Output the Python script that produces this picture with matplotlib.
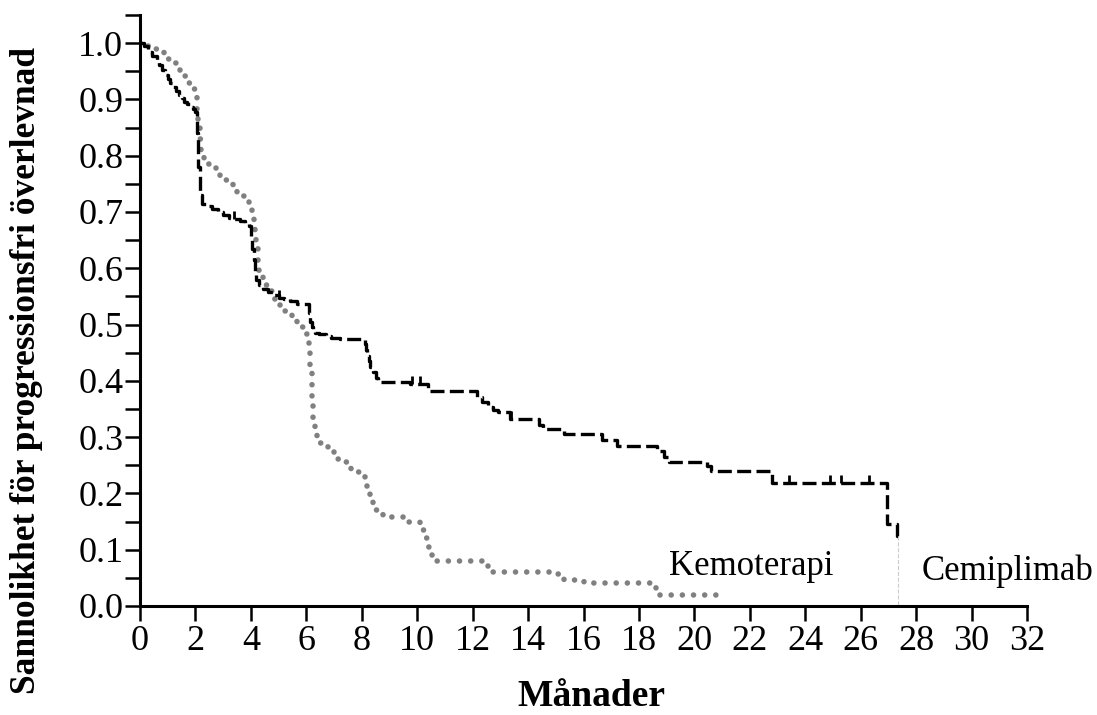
import numpy as np
import matplotlib
matplotlib.use("Agg")
import matplotlib.pyplot as plt
from matplotlib.ticker import MultipleLocator, FormatStrFormatter

plt.rcParams['font.family'] = ['Liberation Serif', 'DejaVu Serif']

# Cemiplimab (black, dashed) - Kaplan-Meier steps
cemi_t = [0, 0.15, 0.3, 0.45, 0.6, 0.7, 0.8, 0.9, 1.0, 1.1, 1.2, 1.3, 1.4, 1.5, 1.6,
          1.7, 1.8, 1.9, 2.0, 2.05, 2.1, 2.15, 2.25, 2.4, 2.6, 2.8, 3.0, 3.2, 3.4,
          3.6, 3.8, 3.95, 4.0, 4.05, 4.1, 4.15, 4.2, 4.3, 4.45, 4.6, 4.8, 5.0, 5.2,
          5.4, 5.65, 6.1, 6.15, 6.2, 6.25, 6.3, 6.45, 6.7, 6.9, 7.2, 8.1, 8.15, 8.2,
          8.25, 8.3, 8.4, 8.5, 8.6, 9.75, 10.4, 12.15, 12.35, 12.55, 12.75, 12.9,
          13.35, 14.4, 14.55, 15.3, 16.65, 17.2, 18.65, 18.9, 19.1, 20.45, 20.6,
          22.8, 26.95, 27.3, 27.35]
cemi_s = [1.0, 0.995, 0.985, 0.978, 0.97, 0.962, 0.953, 0.944, 0.937, 0.93, 0.922,
          0.915, 0.908, 0.902, 0.896, 0.891, 0.887, 0.883, 0.878, 0.84, 0.78, 0.73,
          0.715, 0.71, 0.705, 0.7, 0.695, 0.69, 0.688, 0.684, 0.68, 0.675, 0.655,
          0.635, 0.615, 0.595, 0.58, 0.57, 0.563, 0.557, 0.552, 0.548, 0.545, 0.541,
          0.537, 0.52, 0.505, 0.495, 0.488, 0.485, 0.483, 0.48, 0.476, 0.474, 0.465,
          0.455, 0.445, 0.435, 0.425, 0.415, 0.405, 0.398, 0.394, 0.382, 0.372, 0.362,
          0.354, 0.348, 0.344, 0.332, 0.322, 0.315, 0.305, 0.295, 0.284, 0.275, 0.265,
          0.255, 0.249, 0.24, 0.219, 0.145, 0.125, 0.125]
cemi_cens = [3.4, 5.0, 9.8, 10.1, 13.4, 23.4, 24.9, 25.3, 26.3]

# Kemoterapi (grey, dotted)
kemo_t = [0, 0.3, 0.5, 0.7, 0.85, 1.0, 1.15, 1.3, 1.45, 1.6, 1.75, 1.9, 2.0, 2.05,
          2.1, 2.15, 2.2, 2.3, 2.45, 2.6, 2.75, 2.9, 3.05, 3.2, 3.35, 3.5, 3.65, 3.8,
          3.95, 4.05, 4.1, 4.15, 4.2, 4.25, 4.3, 4.45, 4.6, 4.8, 5.0, 5.2, 5.35, 5.5,
          5.65, 5.8, 5.95, 6.05, 6.1, 6.15, 6.2, 6.25, 6.3, 6.4, 6.5, 6.65, 6.8, 7.0,
          7.15, 7.3, 7.45, 7.6, 8.0, 8.1, 8.2, 8.3, 8.4, 8.5, 8.75, 9.0, 9.6, 10.1,
          10.2, 10.3, 10.4, 10.5, 10.6, 12.35, 12.55, 15.05, 15.3, 16.0, 18.6, 21.0]
kemo_s = [1.0, 0.995, 0.99, 0.985, 0.978, 0.972, 0.965, 0.958, 0.95, 0.942, 0.93,
          0.918, 0.905, 0.88, 0.855, 0.83, 0.8, 0.792, 0.785, 0.778, 0.77, 0.764,
          0.756, 0.75, 0.742, 0.736, 0.728, 0.722, 0.715, 0.7, 0.685, 0.665, 0.64,
          0.61, 0.585, 0.57, 0.56, 0.545, 0.535, 0.525, 0.518, 0.51, 0.502, 0.495,
          0.483, 0.47, 0.45, 0.42, 0.37, 0.33, 0.315, 0.3, 0.29, 0.284, 0.278, 0.27,
          0.262, 0.255, 0.247, 0.238, 0.232, 0.222, 0.21, 0.195, 0.18, 0.17, 0.162,
          0.158, 0.15, 0.145, 0.135, 0.12, 0.105, 0.09, 0.08, 0.075, 0.06, 0.057,
          0.047, 0.04, 0.02, 0.02]

xticks = np.arange(0, 33, 2)
yticks = np.arange(0, 1.01, 0.1)

fig = plt.figure(figsize=(10.97, 7.15), dpi=100)
ax = fig.add_axes([140 / 1097, 1 - 606 / 715, 887 / 1097, 591 / 715])

ax.step(kemo_t, kemo_s, where='post', color='#808080', lw=4.0,
        linestyle=(0, (0.01, 2.0)), dash_capstyle='round')
ax.step(cemi_t, cemi_s, where='post', color='black', lw=2.4,
        linestyle=(0, (4.2, 1.6)))
# censor marks on the cemiplimab curve
ci = np.searchsorted(cemi_t, cemi_cens, side='right') - 1
ax.plot(cemi_cens, np.array(cemi_s)[ci], ls='none', marker=2, ms=6, mew=2, color='black')
# faint drop to zero at the end
ax.plot([cemi_t[-1], cemi_t[-1]], [cemi_s[-1], 0], color='#cccccc', lw=0.8, ls='--')

ax.set_xlim(0, 32)
ax.set_ylim(0, 1.05)
ax.set_xticks(xticks)
ax.set_yticks(yticks)
ax.yaxis.set_major_formatter(FormatStrFormatter('%.1f'))
ax.yaxis.set_minor_locator(MultipleLocator(0.05))
ax.tick_params(axis='both', which='both', direction='out', length=11, width=1.8,
               labelsize=26, color='black')
ax.tick_params(axis='y', pad=1)
ax.tick_params(axis='x', pad=3)
for side in ('top', 'right'):
    ax.spines[side].set_visible(False)
for side in ('left', 'bottom'):
    ax.spines[side].set_linewidth(2.2)

ax.text(19.1, 0.055, 'Kemoterapi', fontsize=25, ha='left', va='baseline')
ax.text(28.2, 0.046, 'Cemiplimab', fontsize=25, ha='left', va='baseline', clip_on=False)

fig.text(591 / 1097, 1 - 696 / 715, 'Månader', fontsize=27, fontweight='bold',
         ha='center', va='center')
fig.text(27 / 1097, 1 - 370 / 715, 'Sannolikhet för progressionsfri överlevnad',
         fontsize=25.5, fontweight='bold', rotation=90, ha='center', va='center')

fig.savefig('out.png', dpi=100)
